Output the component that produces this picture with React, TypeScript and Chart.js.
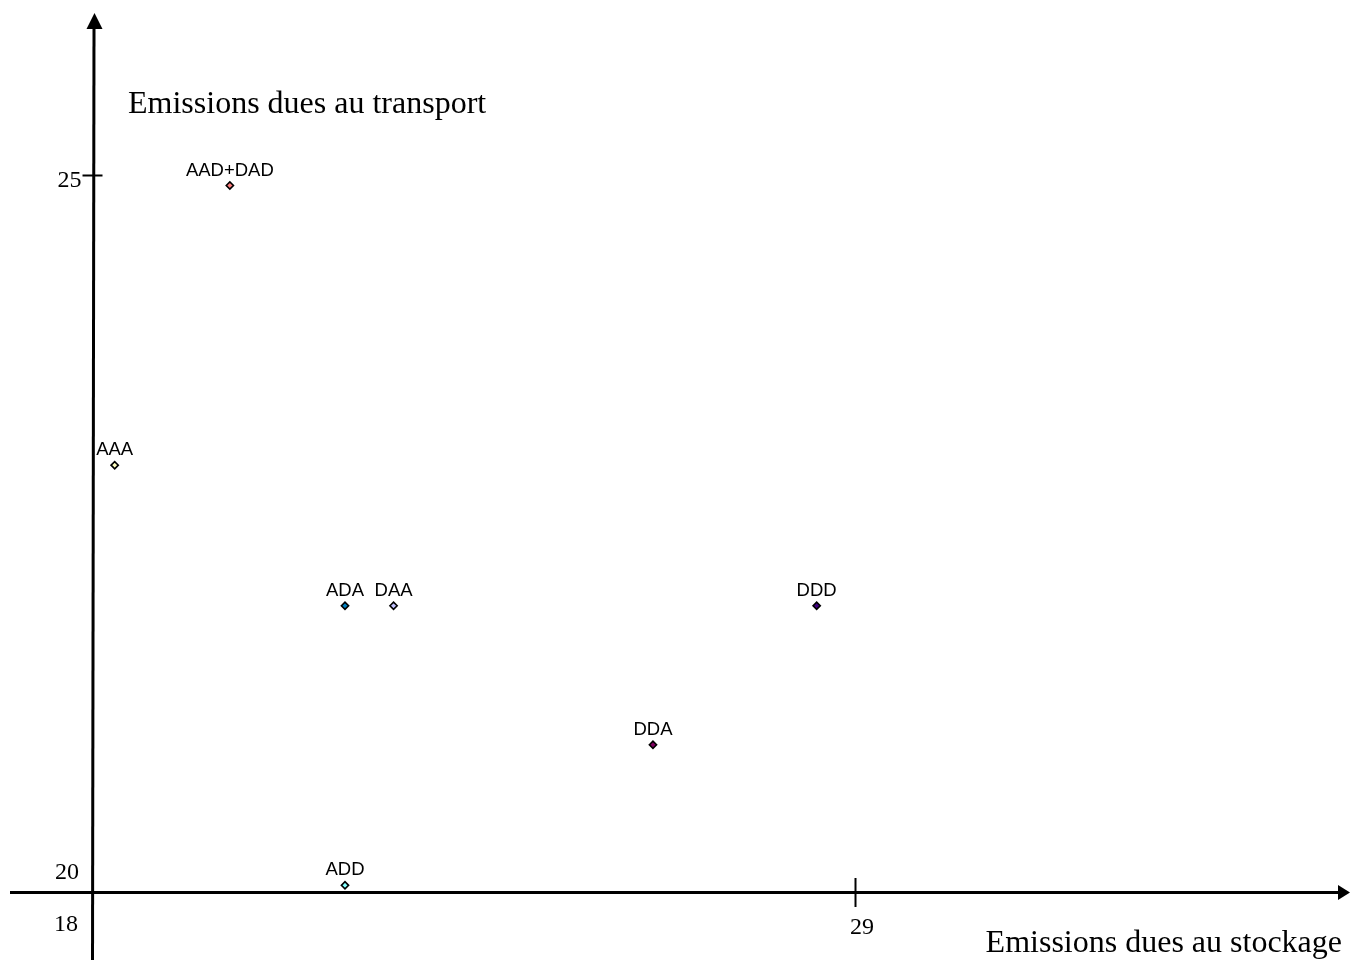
import React, { useEffect, useRef } from "react";
import { Chart, registerables } from "chart.js";

Chart.register(...registerables);

// ---- data ----
const pointLabels = ["AAA", "AAD+DAD", "ADA", "DAA", "DDA", "DDD", "ADD"];
const storageValues = [18.32, 19.98, 21.64, 22.34, 26.08, 28.44, 21.64];
const transportValues = [22.98, 24.93, 22.0, 22.0, 21.03, 22.0, 20.05];
const pointColors = ["#ffffc0", "#ff8080", "#0080c0", "#c0c0ff", "#800060", "#400080", "#80ffff"];
const xTickValues = [18, 29];
const yTickValues = [20, 25];
const xTitle = "Emissions dues au stockage";
const yTitle = "Emissions dues au transport";

const SERIF = '"Liberation Serif", "Times New Roman", serif';
const SANS = '"Liberation Sans", Arial, sans-serif';

const axesPlugin = {
  id: "crossAxes",
  beforeDatasetsDraw(chart: any) {
    const { ctx, scales, width, height } = chart;
    const xs = scales.x;
    const ys = scales.y;
    const x0 = xs.getPixelForValue(xTickValues[0]);
    const y0 = ys.getPixelForValue(yTickValues[0]);
    ctx.save();
    ctx.strokeStyle = "#000";
    ctx.fillStyle = "#000";
    ctx.lineWidth = 3;
    ctx.lineCap = "butt";
    // x axis
    ctx.beginPath();
    ctx.moveTo(10, y0);
    ctx.lineTo(width - 10, y0);
    ctx.stroke();
    ctx.beginPath();
    ctx.moveTo(width, y0);
    ctx.lineTo(width - 12, y0 - 7.5);
    ctx.lineTo(width - 12, y0 + 7.5);
    ctx.closePath();
    ctx.fill();
    // y axis
    ctx.beginPath();
    ctx.moveTo(x0, height);
    ctx.lineTo(x0 + 1.5, 27);
    ctx.stroke();
    ctx.beginPath();
    ctx.moveTo(x0 + 2, 13);
    ctx.lineTo(x0 + 2 - 8, 29);
    ctx.lineTo(x0 + 2 + 8, 29);
    ctx.closePath();
    ctx.fill();

    // ticks
    ctx.lineWidth = 2;
    xTickValues.slice(1).forEach((v) => {
      const px = xs.getPixelForValue(v);
      ctx.beginPath();
      ctx.moveTo(px, y0 - 14.5);
      ctx.lineTo(px, y0 + 14.5);
      ctx.stroke();
    });
    yTickValues.slice(1).forEach((v) => {
      const py = ys.getPixelForValue(v);
      ctx.beginPath();
      ctx.moveTo(x0 - 10, py);
      ctx.lineTo(x0 + 10, py);
      ctx.stroke();
    });

    // tick labels
    ctx.font = `24px ${SERIF}`;
    ctx.textBaseline = "alphabetic";
    xTickValues.forEach((v, i) => {
      const px = xs.getPixelForValue(v);
      ctx.textAlign = "center";
      if (i === 0) ctx.fillText(String(v), px - 26.5, y0 + 38.5);
      else ctx.fillText(String(v), px + 6.5, y0 + 41.5);
    });
    yTickValues.forEach((v, i) => {
      const py = ys.getPixelForValue(v);
      ctx.textAlign = "right";
      if (i === 0) ctx.fillText(String(v), x0 - 13.5, py - 13.5);
      else ctx.fillText(String(v), x0 - 11, py + 11.5);
    });

    // axis titles
    ctx.font = `32px ${SERIF}`;
    ctx.textAlign = "left";
    ctx.fillText(yTitle, x0 + 35.5, 113);
    ctx.textAlign = "right";
    ctx.fillText(xTitle, width - 8, 952);
    ctx.restore();
  },
  afterDatasetsDraw(chart: any) {
    const { ctx } = chart;
    const meta = chart.getDatasetMeta(0);
    ctx.save();
    ctx.font = `18.5px ${SANS}`;
    ctx.fillStyle = "#000";
    ctx.textAlign = "center";
    ctx.textBaseline = "alphabetic";
    meta.data.forEach((el: any, i: number) => {
      ctx.fillText(pointLabels[i], el.x, el.y - 10);
    });
    ctx.restore();
  },
};

export default function App() {
  const ref = useRef<HTMLCanvasElement | null>(null);
  useEffect(() => {
    if (!ref.current) return;
    const chart = new Chart(ref.current, {
      type: "scatter",
      data: {
        datasets: [
          {
            label: "Scénarios",
            data: storageValues.map((x, i) => ({ x, y: transportValues[i] })),
            backgroundColor: pointColors,
            borderColor: "#000",
            borderWidth: 1.6,
            pointStyle: "rectRot",
            pointRadius: 3.6,
          },
        ],
      },
      options: {
        responsive: false,
        maintainAspectRatio: false,
        animation: false,
        layout: { padding: 0, autoPadding: false },
        plugins: { legend: { display: false }, tooltip: { enabled: false } },
        scales: {
          x: { type: "linear", min: 16.6664, max: 36.129, display: false },
          y: { type: "linear", min: 19.5293, max: 26.2238, display: false },
        },
      },
      plugins: [axesPlugin],
    });
    return () => chart.destroy();
  }, []);
  return (
    <div style={{ position: "absolute", left: 0, top: 0, width: 1350, height: 960, background: "#fff" }}>
      <canvas ref={ref} width={1350} height={960} />
    </div>
  );
}
